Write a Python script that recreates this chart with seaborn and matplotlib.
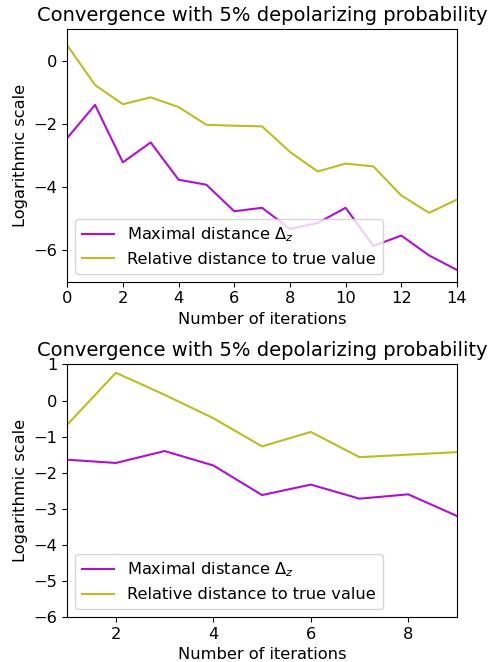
import numpy as np
import pandas as pd
import matplotlib
matplotlib.use("Agg")
import matplotlib.pyplot as plt
import seaborn as sns

# --- data (log scale values) ---
iters_top = list(range(0, 15))
max_dist_top = [-2.45, -1.40, -3.22, -2.59, -3.77, -3.93, -4.77, -4.66,
                -5.33, -5.14, -4.66, -5.87, -5.54, -6.17, -6.63]
rel_dist_top = [0.49, -0.77, -1.38, -1.16, -1.47, -2.03, -2.06, -2.08,
                -2.89, -3.51, -3.26, -3.35, -4.27, -4.82, -4.40]

iters_bot = list(range(1, 10))
max_dist_bot = [-1.64, -1.73, -1.40, -1.80, -2.62, -2.33, -2.72, -2.60, -3.20]
rel_dist_bot = [-0.67, 0.77, 0.16, -0.49, -1.27, -0.87, -1.57, -1.50, -1.43]

labels = ["Maximal distance $\\Delta_z$", "Relative distance to true value"]
colors = ["#b010d0", "#bcbd22"]
title = "Convergence with 5% depolarizing probability"

fs = 11.7
fig, axes = plt.subplots(2, 1, figsize=(4.94, 6.62), dpi=100)
fig.subplots_adjust(left=0.136, right=0.925, top=0.956, bottom=0.068, hspace=0.328)

panels = [
    (iters_top, max_dist_top, rel_dist_top, (0, 14), (-7, 1)),
    (iters_bot, max_dist_bot, rel_dist_bot, (1, 9), (-6, 1)),
]

for ax, (x, m, r, xl, yl) in zip(axes, panels):
    df = pd.DataFrame({"x": x, labels[0]: m, labels[1]: r})
    long = df.melt(id_vars="x", var_name="series", value_name="val")
    sns.lineplot(data=long, x="x", y="val", hue="series", hue_order=labels,
                 palette=colors, ax=ax, linewidth=1.5)
    ax.set_xlim(*xl)
    ax.set_ylim(*yl)
    ax.set_title(title, fontsize=14.0)
    ax.set_xlabel("Number of iterations", fontsize=fs)
    ax.set_ylabel("Logarithmic scale", fontsize=fs)
    ax.tick_params(labelsize=fs)
    ax.legend(loc="lower left", fontsize=fs, title=None)

axes[0].set_yticks([0, -2, -4, -6])
axes[1].set_xticks([2, 4, 6, 8])
axes[1].set_yticks([1, 0, -1, -2, -3, -4, -5, -6])

fig.savefig("out.png", dpi=100)
